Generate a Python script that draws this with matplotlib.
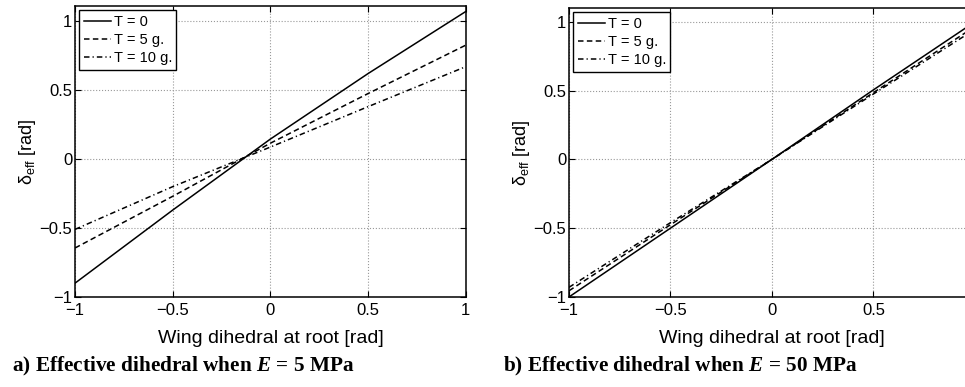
import numpy as np
import matplotlib
matplotlib.use('Agg')
import matplotlib.pyplot as plt

plt.rcParams['font.family'] = ['Liberation Sans', 'DejaVu Sans']
plt.rcParams['mathtext.fontset'] = 'custom'
plt.rcParams['mathtext.rm'] = 'Liberation Sans'
plt.rcParams['mathtext.it'] = 'Liberation Sans:italic'
plt.rcParams['mathtext.bfit'] = 'Liberation Serif:italic:bold'

# wing dihedral at root [rad]
dihedral = [-1.0, -0.5, 0.0, 0.5, 1.0]

# a) E = 5 MPa
eff_a_T0 = [-0.90, -0.37, 0.145, 0.62, 1.07]
eff_a_T5 = [-0.645, -0.27, 0.115, 0.475, 0.826]
eff_a_T10 = [-0.51, -0.20, 0.087, 0.38, 0.67]

# b) E = 50 MPa
eff_b_T0 = [-1.0, -0.5, 0.0, 0.505, 1.0]
eff_b_T5 = [-0.955, -0.475, 0.0, 0.485, 0.965]
eff_b_T10 = [-0.93, -0.46, 0.0, 0.475, 0.945]

labels = ['T = 0', 'T = 5 g.', 'T = 10 g.']
ticks = [-1, -0.5, 0, 0.5, 1]
tick_labels = ['\u22121', '\u22120.5', '0', '0.5', '1']
# right panel runs past the page edge, its last x label is not shown
tick_labels_b = ['\u22121', '\u22120.5', '0', '0.5', '']

styles = ['-', (0, (3.6, 2.2)), (0, (3.6, 2.0, 0.8, 2.0))]

fig = plt.figure(figsize=(9.65, 3.87), dpi=100)
ax_a = fig.add_axes([0.0777, 0.2326, 0.405, 0.752])
ax_b = fig.add_axes([0.5896, 0.2326, 0.4207, 0.7468])


def draw_panel(ax, series, ytop, xlabels, ylab_x):
    for ys, ls, lab in zip(series, styles, labels):
        ax.plot(dihedral, ys, color='black', linestyle=ls, linewidth=1.1, label=lab)
    ax.set_xlim(-1, 1)
    ax.set_ylim(-1, ytop)
    ax.set_xticks(ticks)
    ax.set_xticklabels(xlabels)
    ax.set_yticks(ticks)
    ax.set_yticklabels(tick_labels)
    ax.tick_params(direction='in', length=4, width=0.8, top=True, right=True,
                   labelsize=12, pad=2)
    ax.tick_params(axis='x', pad=4)
    ax.grid(True, linestyle=':', color='#999999', linewidth=0.8)
    for sp in ax.spines.values():
        sp.set_linewidth(1.1)
    ax.set_xlabel('Wing dihedral at root [rad]', fontsize=14, labelpad=9)
    ax.set_ylabel('\u03b4$_{\\mathrm{eff}}$ [rad]', fontsize=13)
    ax.yaxis.set_label_coords(ylab_x, 0.5)
    leg = ax.legend(loc='upper left', fontsize=10.5, handlelength=1.9,
                    handletextpad=0.15, borderpad=0.3, labelspacing=0.3,
                    borderaxespad=0.3, fancybox=False, framealpha=1)
    leg.get_frame().set_edgecolor('black')
    leg.get_frame().set_linewidth(1.0)


draw_panel(ax_a, [eff_a_T0, eff_a_T5, eff_a_T10], 1.11, tick_labels, -0.095)
draw_panel(ax_b, [eff_b_T0, eff_b_T5, eff_b_T10], 1.10, tick_labels_b, -0.092)

cap_font = dict(fontsize=15.3, fontweight='bold', family='Liberation Serif')
fig.text(0.012, 0.04, r'a) Effective dihedral when $\mathbfit{E}$ = 5 MPa', **cap_font)
fig.text(0.521, 0.04, r'b) Effective dihedral when $\mathbfit{E}$ = 50 MPa', **cap_font)

fig.savefig('out.png', dpi=100)
